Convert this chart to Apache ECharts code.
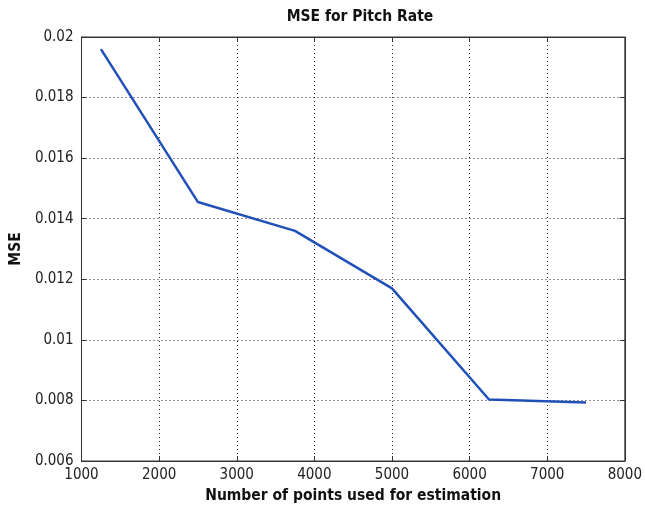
<!DOCTYPE html>
<html>
<head>
<meta charset="utf-8">
<script src="https://cdn.jsdelivr.net/npm/echarts@6/dist/echarts.min.js"></script>
<style>html,body{margin:0;padding:0;background:#fff}#c{width:645px;height:509px}</style>
</head>
<body>
<div id="c"></div>
<script>
var titleText = "MSE for Pitch Rate";
var xName = "Number of points used for estimation";
var yName = "MSE";
var xPoints = [1250, 2500, 3750, 5000, 6250, 7500];
var mseValues = [0.0196, 0.01455, 0.0136, 0.0117, 0.00803, 0.00793];
var xTicks = [1000, 2000, 3000, 4000, 5000, 6000, 7000, 8000];
var yTicks = [0.006, 0.008, 0.01, 0.012, 0.014, 0.016, 0.018, 0.02];

var fontTick = "'Liberation Sans Narrow','DejaVu Sans Condensed','Liberation Sans',sans-serif";
var chart = echarts.init(document.getElementById('c'), null, {renderer: 'canvas'});
var data = xPoints.map(function (x, i) { return [x, mseValues[i]]; });
function fmtY(v) { return parseFloat(v.toFixed(4)).toString(); }
function fmtX(v) { return String(Math.round(v)); }
var gridLine = {show: true, lineStyle: {color: '#222', type: [1, 3], width: 1}};
chart.setOption({
  animation: false,
  backgroundColor: '#fff',
  title: {
    text: titleText, left: 355, top: 4, textAlign: 'center',
    textStyle: {fontFamily: fontTick, fontWeight: 'bold', fontSize: 15.5, color: '#111'}
  },
  grid: {left: 81, right: 16, top: 37, bottom: 45, show: true, borderColor: '#333', borderWidth: 1, backgroundColor: '#fff'},
  xAxis: [{
    type: 'value', min: xTicks[0], max: xTicks[xTicks.length - 1], interval: 1000,
    name: xName, nameLocation: 'middle', nameGap: 27,
    nameTextStyle: {fontFamily: fontTick, fontWeight: 'bold', fontSize: 15.5, color: '#111'},
    axisLine: {show: true, lineStyle: {color: '#333', width: 1}},
    axisTick: {show: true, inside: true, length: 5, lineStyle: {color: '#333'}},
    axisLabel: {fontFamily: fontTick, fontSize: 15, color: '#222', margin: 7, formatter: fmtX},
    splitLine: gridLine
  }, {
    type: 'value', position: 'top', min: xTicks[0], max: xTicks[xTicks.length - 1], interval: 1000,
    axisLine: {show: true, lineStyle: {color: '#333', width: 1}},
    axisTick: {show: true, inside: true, length: 5, lineStyle: {color: '#333'}},
    axisLabel: {show: false}, splitLine: {show: false}
  }],
  yAxis: [{
    type: 'value', min: yTicks[0], max: yTicks[yTicks.length - 1], interval: 0.002,
    name: yName, nameLocation: 'middle', nameGap: 57, nameRotate: 90,
    nameTextStyle: {fontFamily: fontTick, fontWeight: 'bold', fontSize: 15.5, color: '#111'},
    axisLine: {show: true, lineStyle: {color: '#333', width: 1}},
    axisTick: {show: true, inside: true, length: 5, lineStyle: {color: '#333'}},
    axisLabel: {fontFamily: fontTick, fontSize: 15, color: '#222', margin: 8, formatter: fmtY},
    splitLine: gridLine
  }, {
    type: 'value', position: 'right', min: yTicks[0], max: yTicks[yTicks.length - 1], interval: 0.002,
    axisLine: {show: true, lineStyle: {color: '#333', width: 1}},
    axisTick: {show: true, inside: true, length: 5, lineStyle: {color: '#333'}},
    axisLabel: {show: false}, splitLine: {show: false}
  }],
  series: [{
    type: 'line', data: data, showSymbol: false, symbol: 'none',
    lineStyle: {color: '#2150b8', width: 2.5}, z: 5
  }]
});
</script>
</body>
</html>
